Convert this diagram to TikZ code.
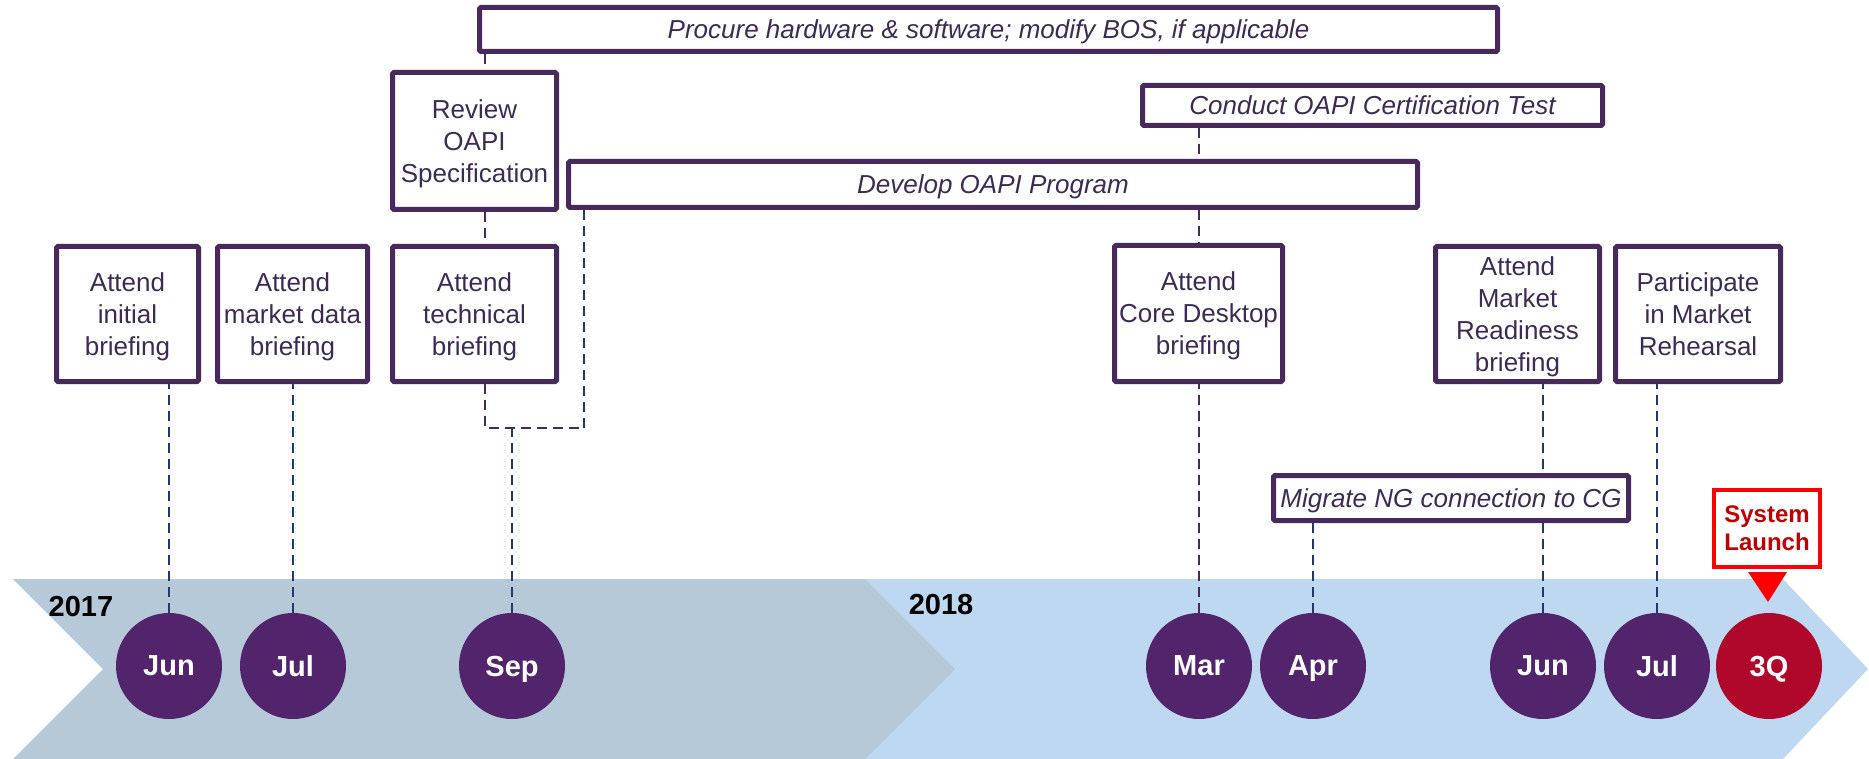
\documentclass[tikz,border=0pt]{standalone}
\usepackage{fontspec}
\setmainfont{Liberation Sans}
\usetikzlibrary{backgrounds}
\definecolor{boxpurple}{HTML}{48295B}
\definecolor{txtpurple}{HTML}{3D2A55}
\definecolor{dotpurple}{HTML}{51246C}
\definecolor{dotred}{HTML}{B0082B}
\definecolor{chevgrey}{HTML}{B5C9D9}
\definecolor{chevblue}{HTML}{BDD8F0}
\definecolor{linknavy}{HTML}{1F3A6B}
\definecolor{launchred}{HTML}{FF0000}
\definecolor{launchtxt}{HTML}{C00000}

\begin{document}
\begin{tikzpicture}[x=1pt, y=-1pt,
  task/.style={draw=boxpurple, line width=5pt, rounded corners=1.5pt, fill=white, text=txtpurple, align=center, inner sep=2pt, text depth=0pt, font=\fontsize{26}{32}\selectfont},
  bar/.style={task, font=\fontsize{26}{32}\selectfont\itshape},
  month/.style={circle, fill=dotpurple, minimum size=106pt, inner sep=0pt, text depth=0pt, text=white, font=\fontsize{29}{34}\selectfont\bfseries},
  year/.style={font=\fontsize{29}{34}\selectfont\bfseries},
  link/.style={draw=linknavy, line width=2pt, dash pattern=on 10pt off 6pt},
  plink/.style={link, draw=boxpurple}]
\useasboundingbox (0,0) rectangle (1869,759);

% briefings and events
\node[task, minimum width=142pt, minimum height=135pt] (initial) at (127.5,314) {Attend\\initial\\briefing};
\node[task, minimum width=150pt, minimum height=135pt] (mktdata) at (292.5,314) {Attend\\market data\\briefing};
\node[task, minimum width=164pt, minimum height=135pt] (technical) at (474.5,314) {Attend\\technical\\briefing};
\node[task, minimum width=164pt, minimum height=137pt] (review) at (474.5,141) {Review\\OAPI\\Specification};
\node[task, minimum width=168pt, minimum height=136pt] (coredesk) at (1198.5,313.5) {Attend\\Core Desktop\\briefing};
\node[task, minimum width=164pt, minimum height=135pt] (readiness) at (1517.5,314) {Attend\\Market\\Readiness\\briefing};
\node[task, minimum width=165pt, minimum height=135pt] (rehearsal) at (1698,314) {Participate\\in Market\\Rehearsal};

% activity bars
\node[bar, minimum width=1018pt, minimum height=44pt] (procure) at (988.5,29.5) {Procure hardware \& software; modify BOS, if applicable};
\node[bar, minimum width=460pt, minimum height=40pt] (conduct) at (1372.5,105.5) {Conduct OAPI Certification Test};
\node[bar, minimum width=849pt, minimum height=46pt] (develop) at (993,184.5) {Develop OAPI Program};
\node[bar, minimum width=355pt, minimum height=45pt] (migrate) at (1451,498) {Migrate NG connection to CG};

% launch flag
\node[draw=launchred, line width=4pt, fill=white, text=launchtxt, align=center, inner sep=1pt, text depth=0pt, minimum width=106pt, minimum height=77pt, font=\fontsize{24}{28}\selectfont\bfseries] (launch) at (1767,528.5) {System\\Launch};
\fill[launchred] (1748,572) -- (1787,572) -- (1768,602) -- cycle;

% timeline
\node[year] (y2017) at (81,607) {2017};
\node[year] (y2018) at (941,605) {2018};
\node[month] (jun17) at (169,666) {Jun};
\node[month] (jul17) at (293,666) {Jul};
\node[month] (sep17) at (512,666) {Sep};
\node[month] (mar18) at (1199,666) {Mar};
\node[month] (apr18) at (1313,666) {Apr};
\node[month] (jun18) at (1543,666) {Jun};
\node[month] (jul18) at (1657,666) {Jul};
\node[month, fill=dotred] (q318) at (1769,666) {3Q};

\coordinate (revx) at (485,428);
\coordinate (brk) at (584,428);

\begin{scope}[on background layer]
\fill[chevblue] (865,579) -- (1783,579) -- (1868,669) -- (1783,759) -- (865,759) -- cycle;
\fill[chevgrey] (13,579) -- (865,579) -- (955,669) -- (865,759) -- (13,759) -- (103,669) -- cycle;

\draw[link] (jun17.north) -- (jun17.north |- initial.south);
\draw[link] (jul17.north) -- (jul17.north |- mktdata.south);
\draw[plink] (revx |- procure.south) -- (revx |- review.north);
\draw[plink] (revx |- review.south) -- (revx |- technical.north);
\draw[plink] (revx |- technical.south) -- (revx) -- (brk);
\draw[link] (brk) -- (brk |- develop.south);
\draw[link] (sep17.north) -- (sep17.north |- brk);
\draw[plink] (mar18.north |- conduct.south) -- (mar18.north |- develop.north);
\draw[plink] (mar18.north |- develop.south) -- (mar18.north |- coredesk.north);
\draw[plink] (mar18.north) -- (mar18.north |- coredesk.south);
\draw[link] (apr18.north) -- (apr18.north |- migrate.south);
\draw[link] (jun18.north) -- (jun18.north |- readiness.south);
\draw[link] (jul18.north) -- (jul18.north |- rehearsal.south);
\end{scope}
\end{tikzpicture}
\end{document}
